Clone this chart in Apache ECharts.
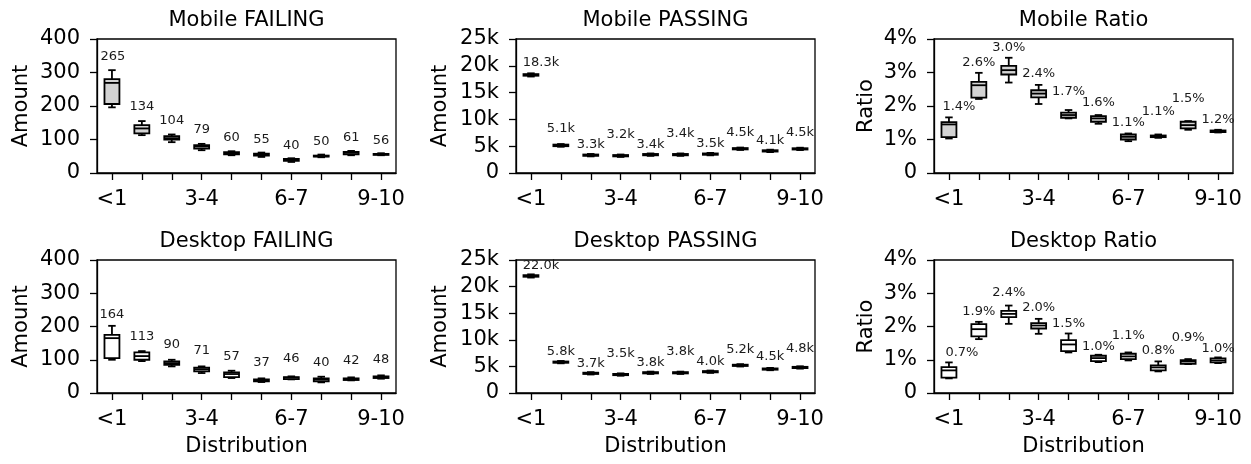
<!DOCTYPE html>
<html><head><meta charset="utf-8">
<script src="https://cdn.jsdelivr.net/npm/echarts@6/dist/echarts.min.js"></script>
<style>html,body{margin:0;padding:0;background:#fff}#c{width:1251px;height:464px}</style>
</head><body><div id="c"></div>
<script>
// ---------- DATA ----------
const categories = ['<1', '1-2', '2-3', '3-4', '4-5', '5-6', '6-7', '7-8', '8-9', '9-10'];

// box stats per category: [min, q1, median, q3, max]
const mobileFailing = [
  [196, 206, 269, 280, 307], [113, 118, 133, 143, 155], [92, 100, 104, 110, 115],
  [68, 73, 79, 83, 87], [53, 56, 60, 62, 65], [48, 52, 55, 58, 61],
  [33, 36, 40, 42, 44], [47, 49, 50, 52, 55], [53, 56, 61, 63, 66], [53, 54, 56, 57, 59]
];
const mobileFailingLabels = [265, 134, 104, 79, 60, 55, 40, 50, 61, 56];

const mobilePassing = [
  [18000, 18150, 18300, 18450, 18600], [4900, 5000, 5150, 5300, 5400], [3100, 3200, 3330, 3450, 3550],
  [3000, 3100, 3220, 3350, 3450], [3200, 3300, 3420, 3550, 3650], [3200, 3300, 3420, 3550, 3650],
  [3300, 3400, 3520, 3650, 3750], [4300, 4400, 4520, 4650, 4750], [3900, 4000, 4110, 4250, 4350],
  [4280, 4380, 4500, 4620, 4720]
];
const mobilePassingLabels = [18300, 5100, 3300, 3200, 3400, 3400, 3500, 4500, 4100, 4500];

const mobileRatio = [
  [1.03, 1.07, 1.45, 1.52, 1.66], [2.21, 2.25, 2.62, 2.72, 2.99], [2.70, 2.94, 3.07, 3.20, 3.44],
  [2.06, 2.26, 2.37, 2.47, 2.63], [1.63, 1.65, 1.73, 1.80, 1.88], [1.47, 1.53, 1.63, 1.70, 1.73],
  [0.95, 1.00, 1.08, 1.15, 1.18], [1.05, 1.07, 1.10, 1.12, 1.15], [1.29, 1.33, 1.43, 1.53, 1.55],
  [1.21, 1.22, 1.24, 1.27, 1.29]
];
const mobileRatioLabels = [1.4, 2.6, 3.0, 2.4, 1.7, 1.6, 1.1, 1.1, 1.5, 1.2];

const desktopFailing = [
  [100, 105, 165, 175, 202], [96, 100, 111, 122, 126], [80, 85, 90, 95, 100],
  [60, 65, 71, 76, 80], [45, 48, 57, 62, 67], [33, 35, 37, 41, 44],
  [41, 42, 46, 48, 50], [32, 35, 40, 44, 49], [38, 39, 42, 44, 47], [43, 45, 48, 50, 53]
];
const desktopFailingLabels = [164, 113, 90, 71, 57, 37, 46, 40, 42, 48];

const desktopPassing = [
  [21700, 21850, 22000, 22150, 22300], [5580, 5680, 5800, 5920, 6020], [3480, 3580, 3700, 3820, 3920],
  [3250, 3350, 3470, 3590, 3690], [3580, 3680, 3800, 3920, 4020], [3580, 3680, 3800, 3920, 4020],
  [3780, 3880, 4000, 4120, 4220], [4980, 5080, 5200, 5320, 5420], [4280, 4380, 4500, 4620, 4720],
  [4580, 4680, 4800, 4920, 5020]
];
const desktopPassingLabels = [22000, 5800, 3700, 3500, 3800, 3800, 4000, 5200, 4500, 4800];

const desktopRatio = [
  [0.44, 0.46, 0.68, 0.78, 0.92], [1.62, 1.70, 1.92, 2.07, 2.14], [2.08, 2.28, 2.38, 2.47, 2.63],
  [1.78, 1.94, 2.03, 2.10, 2.23], [1.22, 1.26, 1.46, 1.59, 1.79], [0.93, 0.96, 1.05, 1.12, 1.15],
  [0.98, 1.02, 1.10, 1.18, 1.22], [0.65, 0.68, 0.77, 0.83, 0.95], [0.87, 0.88, 0.95, 0.99, 1.02],
  [0.90, 0.92, 0.98, 1.04, 1.07]
];
const desktopRatioLabels = [0.7, 1.9, 2.4, 2.0, 1.5, 1.0, 1.1, 0.8, 0.9, 1.0];

// ---------- STYLE / LAYOUT ----------
const FONT = '"DejaVu Sans", "Liberation Sans", sans-serif';
const LW = 1.8;
const AXLW = 1.3;
const colLeft = [97, 516, 934];
const rowTop = [39, 260];
const gridW = 299, gridH = [134, 133];

const fmtInt = v => String(v);
const fmtK = v => (v / 1000).toFixed(1) + 'k';
const fmtPct = v => v.toFixed(1) + '%';
const axK = v => v === 0 ? '0' : (v / 1000) + 'k';
const axPct = v => v === 0 ? '0' : v + '%';

const panels = [
  { title: 'Mobile FAILING', stats: mobileFailing, labels: mobileFailingLabels, fill: '#d3d3d3',
    max: 400, interval: 100, axFmt: fmtInt, lblFmt: fmtInt, yName: 'Amount', nameGap: 65,
    lift: [14, 14, 14, 14, 14, 13, 13, 13, 13, 13], shift0: 1, row: 0, col: 0 },
  { title: 'Mobile PASSING', stats: mobilePassing, labels: mobilePassingLabels, fill: '#d3d3d3',
    max: 25000, interval: 5000, axFmt: axK, lblFmt: fmtK, yName: 'Amount', nameGap: 65,
    lift: [11, 15, 9, 20, 9, 20, 9, 15, 9, 15], shift0: 10, row: 0, col: 1 },
  { title: 'Mobile Ratio', stats: mobileRatio, labels: mobileRatioLabels, fill: '#d3d3d3',
    max: 4, interval: 1, axFmt: axPct, lblFmt: fmtPct, yName: 'Ratio', nameGap: 57,
    lift: [10.5, 10.5, 10, 11, 18.5, 12.5, 10.5, 22.5, 22, 10], shift0: 10, row: 0, col: 2 },
  { title: 'Desktop FAILING', stats: desktopFailing, labels: desktopFailingLabels, fill: '#ffffff',
    max: 400, interval: 100, axFmt: fmtInt, lblFmt: fmtInt, yName: 'Amount', nameGap: 65,
    lift: [11, 14, 15, 16, 14, 16, 18, 14, 17, 16], shift0: 0, row: 1, col: 0 },
  { title: 'Desktop PASSING', stats: desktopPassing, labels: desktopPassingLabels, fill: '#ffffff',
    max: 25000, interval: 5000, axFmt: axK, lblFmt: fmtK, yName: 'Amount', nameGap: 65,
    lift: [9, 9, 9, 20, 9, 20, 9, 15, 11, 18], shift0: 10, row: 1, col: 1 },
  { title: 'Desktop Ratio', stats: desktopRatio, labels: desktopRatioLabels, fill: '#ffffff',
    max: 4, interval: 1, axFmt: axPct, lblFmt: fmtPct, yName: 'Ratio', nameGap: 57,
    lift: [10, 10, 13, 11, 10, 8.5, 17, 11, 21, 8.5], shift0: 13, row: 1, col: 2 }
];

function makeRender(p) {
  return function (params, api) {
    const i = api.value(0);
    const band = api.size([1, 0])[0];
    const bw = band * 0.5, cw = band * 0.25;
    const pt = k => api.coord([i, api.value(k)]);
    const pMin = pt(1), pQ1 = pt(2), pMed = pt(3), pQ3 = pt(4), pMax = pt(5);
    const x = pMed[0];
    const ls = { stroke: '#000', lineWidth: LW, fill: null };
    return {
      type: 'group',
      children: [
        { type: 'line', shape: { x1: x, y1: pQ1[1], x2: x, y2: pMin[1] }, style: ls },
        { type: 'line', shape: { x1: x, y1: pQ3[1], x2: x, y2: pMax[1] }, style: ls },
        { type: 'line', shape: { x1: x - cw / 2, y1: pMin[1], x2: x + cw / 2, y2: pMin[1] }, style: ls },
        { type: 'line', shape: { x1: x - cw / 2, y1: pMax[1], x2: x + cw / 2, y2: pMax[1] }, style: ls },
        { type: 'rect', shape: { x: x - bw / 2, y: pQ3[1], width: bw, height: pQ1[1] - pQ3[1] },
          style: { fill: p.fill, stroke: '#000', lineWidth: LW } },
        { type: 'line', shape: { x1: x - bw / 2, y1: pMed[1], x2: x + bw / 2, y2: pMed[1] }, style: ls },
        { type: 'text', x: x + (i === 0 ? p.shift0 : 0), y: pMax[1] - p.lift[i],
          style: { text: p.lblFmt(api.value(6)), font: '13px ' + FONT, fill: '#1a1a1a',
                   align: 'center', verticalAlign: 'middle' } }
      ]
    };
  };
}

const grid = [], xAxis = [], yAxis = [], series = [], graphic = [];
panels.forEach((p, k) => {
  const left = colLeft[p.col], top = rowTop[p.row], h = gridH[p.row];
  grid.push({ left: left, top: top, width: gridW, height: h, show: true,
              borderColor: '#000', borderWidth: AXLW, backgroundColor: 'transparent',
              outerBoundsMode: 'none', containLabel: false });
  xAxis.push({
    type: 'category', gridIndex: k, data: categories, boundaryGap: true,
    name: p.row === 1 ? 'Distribution' : '', nameLocation: 'middle', nameGap: 43,
    nameTextStyle: { fontFamily: FONT, fontSize: 21, color: '#000' },
    axisLine: { lineStyle: { color: '#000', width: AXLW } },
    axisTick: { show: true, alignWithLabel: true, interval: 0, length: 7, lineStyle: { color: '#000', width: AXLW } },
    axisLabel: { interval: 2, margin: 16, fontFamily: FONT, fontSize: 21, color: '#000' },
    splitLine: { show: false }
  });
  yAxis.push({
    type: 'value', gridIndex: k, min: 0, max: p.max, interval: p.interval,
    name: p.yName, nameLocation: 'middle', nameGap: p.nameGap, nameRotate: 90,
    nameTextStyle: { fontFamily: FONT, fontSize: 21, color: '#000' },
    axisLine: { show: true, lineStyle: { color: '#000', width: AXLW } },
    axisTick: { show: true, length: 7, lineStyle: { color: '#000', width: AXLW } },
    axisLabel: { margin: 17, fontFamily: FONT, fontSize: 21, color: '#000', formatter: p.axFmt },
    splitLine: { show: false }
  });
  series.push({
    type: 'custom', xAxisIndex: k, yAxisIndex: k, clip: false,
    renderItem: makeRender(p),
    encode: { x: 0, y: [1, 2, 3, 4, 5] },
    data: p.stats.map((s, i) => [i, s[0], s[1], s[2], s[3], s[4], p.labels[i]]),
    animation: false, silent: true
  });
  graphic.push({
    type: 'text', x: left + gridW / 2, y: top - 18,
    style: { text: p.title, font: '21px ' + FONT, fill: '#000', align: 'center', verticalAlign: 'middle' }
  });
});

const chart = echarts.init(document.getElementById('c'), null, { renderer: 'canvas' });
chart.setOption({
  animation: false,
  backgroundColor: '#fff',
  grid, xAxis, yAxis, series, graphic
});
</script>
</body></html>
